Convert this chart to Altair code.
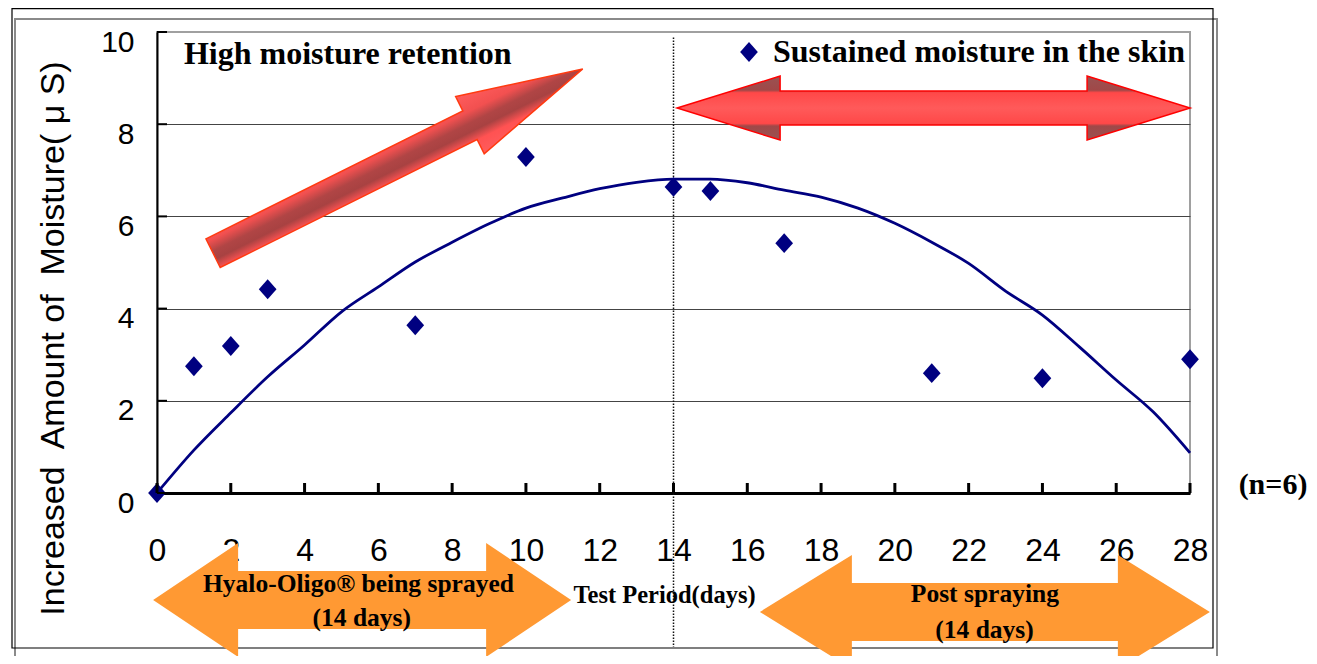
import altair as alt
import pandas as pd

# ---------------- data ----------------
days = [0, 1, 2, 3, 7, 10, 14, 15, 17, 21, 24, 28]
moisture = [0.0, 2.75, 3.19, 4.42, 3.64, 7.29, 6.64, 6.55, 5.42, 2.60, 2.49, 2.90]

trend_days = list(range(0, 29))
trend_values = [0.0, 0.93, 1.74, 2.52, 3.21, 3.93, 4.47, 5.01, 5.44, 5.84,
                6.18, 6.40, 6.60, 6.74, 6.81, 6.81, 6.73, 6.57, 6.42, 6.18,
                5.85, 5.44, 4.98, 4.38, 3.86, 3.17, 2.45, 1.76, 0.87]

x_ticks = list(range(0, 29, 2))
y_ticks = [0, 2, 4, 6, 8, 10]
series_name = "Sustained moisture in the skin"
y_title = "Increased\u00a0 Amount of\u00a0 Moisture( μ S)"
x_title = "Test Period(days)"

W, H = 1033, 461

# ---------------- shapes ----------------
def double_arrow(L, h, Hh, a):
    s = L / 2.0
    hh, HH, aa = h / s, Hh / s, a / s
    pts = [(-1, 0), (-1 + aa, -HH), (-1 + aa, -hh), (1 - aa, -hh), (1 - aa, -HH),
           (1, 0), (1 - aa, HH), (1 - aa, hh), (-1 + aa, hh), (-1 + aa, HH)]
    return "M" + "L".join(f"{x:.4f},{y:.4f}" for x, y in pts) + "Z"

def single_arrow(L, h, Hh, a):
    s = L / 2.0
    hh, HH, aa = h / s, Hh / s, a / s
    pts = [(-1, -hh), (1 - aa, -hh), (1 - aa, -HH), (1, 0), (1 - aa, HH),
           (1 - aa, hh), (-1, hh)]
    return "M" + "L".join(f"{x:.4f},{y:.4f}" for x, y in pts) + "Z"

diamond = "M0,-1.08L0.96,0L0,1.08L-0.96,0Z"

xs = alt.Scale(domain=[0, 28], nice=False, zero=False)
ys = alt.Scale(domain=[0, 10], nice=False, zero=False)

x_axis = alt.Axis(
    values=x_ticks, grid=False, ticks=False, tickSize=0,
    domainColor="#000000", domainWidth=3,
    labelFont="Liberation Sans", labelFontSize=32, labelColor="#000000",
    labelPadding=42, labelOverlap=False, labelFlush=False, labelBound=False,
    title=x_title, titleFont="Liberation Serif", titleFontSize=24.5,
    titleFontWeight="bold", titleColor="#000000", titleX=507, titleY=109,
    titleAlign="center", titleBaseline="alphabetic")
y_axis = alt.Axis(
    values=y_ticks, grid=True,
    gridColor={"condition": {"test": "datum.value === 10", "value": "#a0a0a0"}, "value": "#444444"},
    gridWidth=1.2, ticks=False, tickSize=0,
    domainColor="#000000", domainWidth=2,
    labelFont="Liberation Sans", labelFontSize=30, labelColor="#000000",
    labelPadding=23, labelOffset=10,
    title=y_title, titleFont="Liberation Sans",
    titleFontSize=34, titleFontWeight="normal", titleColor="#000000",
    titleAngle=270, titleX=-94, titleY=306, titleAlign="center",
    titleBaseline="alphabetic")

def X(field="x"):
    return alt.X(f"{field}:Q", scale=xs, axis=x_axis, title=x_title)

def Y(field="y"):
    return alt.Y(f"{field}:Q", scale=ys, axis=y_axis, title=y_title)

def pos():
    return dict(x=X(), y=Y())

def one(x, y, t=""):
    return pd.DataFrame({"x": [x], "y": [y], "t": [t]})

# ---------------- frames ----------------
frame_black = alt.Chart(one(0, 0)).mark_rect(fill=None, stroke="#000000", strokeWidth=1.2).encode(
    x=alt.value(-145), x2=alt.value(1056), y=alt.value(-23.4), y2=alt.value(616))
frame_gray = alt.Chart(one(0, 0)).mark_rect(fill=None, stroke="#8a8a8a", strokeWidth=2).encode(
    x=alt.value(-142), x2=alt.value(1060), y=alt.value(-13), y2=alt.value(628))

# ---------------- trend curve ----------------
trend_df = pd.DataFrame({"x": trend_days, "y": trend_values})
curve = alt.Chart(trend_df).mark_line(color="#000080", strokeWidth=2.8, interpolate="monotone").encode(**pos())

# ---------------- inward axis ticks ----------------
xt = alt.Chart(pd.DataFrame({"x": x_ticks})).mark_rule(color="#000000", strokeWidth=3).encode(
    x=X(), y=alt.value(H - 10), y2=alt.value(H))
yt = alt.Chart(pd.DataFrame({"y": y_ticks})).mark_rule(color="#000000", strokeWidth=2).encode(
    y=Y(), x=alt.value(0), x2=alt.value(10))

# ---------------- dotted divider at day 14 ----------------
divider = alt.Chart(pd.DataFrame({"x": [14], "y": [9.88], "y2": [-3.34]})).mark_rule(
    color="#111111", strokeWidth=1.5, strokeDash=[1.5, 1.5]).encode(
    x=X(), y=Y(), y2="y2:Q")

# ---------------- measured points ----------------
pts_df = pd.DataFrame({"x": days, "y": moisture, "series": [series_name] * len(days)})
points = alt.Chart(pts_df).mark_point(shape=diamond, filled=True, size=340, opacity=1, strokeWidth=0).encode(
    **pos(),
    color=alt.Color("series:N", scale=alt.Scale(range=["#000080"]), legend=alt.Legend(
        orient="none", legendX=576, legendY=4, title=None, padding=0,
        symbolType=diamond, symbolSize=340, symbolOpacity=1, symbolStrokeWidth=0,
        labelFont="Liberation Serif", labelFontSize=32, labelFontWeight="bold",
        labelColor="#000000", labelOffset=8, labelLimit=0)))

# ---------------- arrows ----------------
red_grad_h = alt.Gradient(gradient="linear", x1=0, y1=0, x2=0, y2=1, stops=[
    alt.GradientStop(offset=0, color="#9a5252"), alt.GradientStop(offset=0.22, color="#a04848"),
    alt.GradientStop(offset=0.26, color="#ff4848"), alt.GradientStop(offset=0.5, color="#ff5a5a"),
    alt.GradientStop(offset=0.74, color="#ff4848"), alt.GradientStop(offset=0.78, color="#a04848"),
    alt.GradientStop(offset=1, color="#9a5252")])
red_grad_t = alt.Gradient(gradient="linear", x1=0, y1=0, x2=0, y2=1, stops=[
    alt.GradientStop(offset=0, color="#ff5c5c"), alt.GradientStop(offset=0.3, color="#f25050"),
    alt.GradientStop(offset=0.47, color="#b04545"), alt.GradientStop(offset=0.6, color="#a84242"),
    alt.GradientStop(offset=0.76, color="#ff5252"), alt.GradientStop(offset=1, color="#ff5c5c")])

tilted = alt.Chart(one(6.53, 7.20)).mark_point(
    shape=single_arrow(413, 16, 32, 126), size=413 ** 2, angle=333.5, filled=True,
    fill=red_grad_t, stroke="#ff3a10", strokeWidth=1.5, opacity=1).encode(**pos())
red_double = alt.Chart(one(21.05, 8.35)).mark_point(
    shape=double_arrow(513, 17, 32, 103), size=513 ** 2, filled=True,
    fill=red_grad_h, stroke="#ff0000", strokeWidth=1.5, opacity=1).encode(**pos())
orange_left = alt.Chart(one(5.56, -2.32)).mark_point(
    shape=double_arrow(418, 29, 57, 85), size=418 ** 2, filled=True,
    fill="#ff9933", strokeWidth=0, opacity=1).encode(**pos())
orange_right = alt.Chart(one(22.44, -2.58)).mark_point(
    shape=double_arrow(450, 29, 57, 92), size=450 ** 2, filled=True,
    fill="#ff9933", strokeWidth=0, opacity=1).encode(**pos())

# ---------------- texts ----------------
def label(df, size, align="center"):
    return alt.Chart(df).mark_text(font="Liberation Serif", fontWeight="bold", fontSize=size,
                                   color="#000000", align=align, baseline="alphabetic").encode(
        **pos(), text="t:N")

t_high = label(one(0.73, 9.31, "High moisture retention"), 32, "left")
t_hy1 = label(one(5.46, -2.15, "Hyalo-Oligo® being sprayed"), 25.5)
t_hy2 = label(one(5.55, -2.885, "(14 days)"), 25.5)
t_post1 = label(one(22.44, -2.36, "Post spraying"), 25.5)
t_post2 = label(one(22.43, -3.15, "(14 days)"), 25.5)
t_n = label(one(30.25, -0.02, "(n=6)"), 30)

chart = alt.layer(
    frame_gray, frame_black, curve, divider, tilted, red_double, points, xt, yt,
    orange_left, orange_right, t_high, t_hy1, t_hy2, t_post1, t_post2, t_n
).properties(
    width=W, height=H,
    padding={"left": 149, "top": 24, "right": 119, "bottom": 163},
    autosize=alt.AutoSizeParams(type="none"),
).configure_view(stroke="#a0a0a0", strokeWidth=2)

chart.save("out.html", embed_options={"renderer": "svg", "actions": False})
